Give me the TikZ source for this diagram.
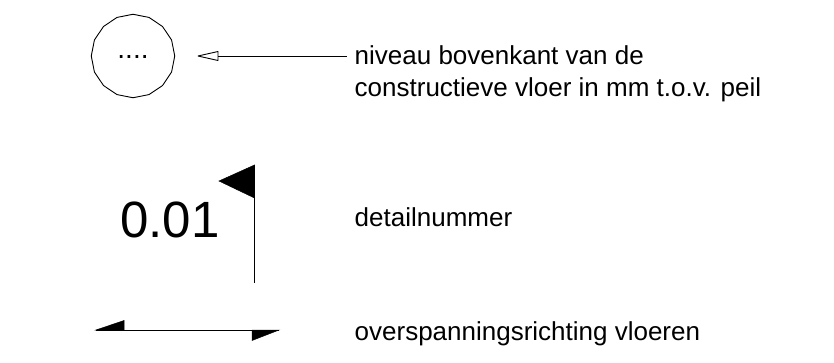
\documentclass[tikz,border=0pt]{standalone}
\usepackage{fontspec}
\setmainfont{Liberation Sans}
\usetikzlibrary{shapes.geometric}
\tikzset{
  label text/.style={anchor=base west,inner sep=0pt,font=\fontsize{26}{30}\selectfont},
  thin line/.style={draw=black,line width=0.9pt,line join=round},
  solid head/.style={fill=black,draw=black,line width=0.5pt,line join=miter}
}
\begin{document}
\begin{tikzpicture}[x=1pt,y=-1pt]
\useasboundingbox (0,0) rectangle (834,362);
\node[regular polygon,regular polygon sides=16,shape border rotate=11.25,minimum size=83.5pt,inner sep=0pt,thin line] (ring) at (133,56) {};
\node[anchor=base,inner sep=0pt,font=\fontsize{28}{30}\selectfont] (dots) at (133,58) {....};
\node[label text] (t1) at (354.5,64) {niveau bovenkant van de};
\node[label text] (t2) at (354.5,96) {constructieve vloer in mm t.o.v. peil};
\coordinate (tipA) at (198,56);
\coordinate (endA) at (347,56);
\draw[thin line] (tipA) -- (218,51.5) -- (218,60.5) -- cycle;
\draw[thin line] (218,56) -- (endA);
\node[anchor=base west,inner sep=0pt,font=\fontsize{51}{60}\selectfont] (num) at (120,237) {0.01};
\coordinate (poleTop) at (254.5,165);
\coordinate (poleBase) at (254.5,283);
\fill[solid head] (poleTop) -- (219,181) -- (254.5,198) -- cycle;
\draw[thin line] (poleTop) -- (poleBase);
\node[label text] (t3) at (354.5,226.7) {detailnummer};
\coordinate (spanL) at (96,330);
\coordinate (spanR) at (279,330);
\draw[thin line] (spanL) -- (spanR);
\fill[solid head] (spanL) -- (124,320.5) -- (124,330) -- cycle;
\fill[solid head] (spanR) -- (252,340.5) -- (252,330) -- cycle;
\node[label text] (t4) at (354.5,340.7) {overspanningsrichting vloeren};
\end{tikzpicture}
\end{document}
